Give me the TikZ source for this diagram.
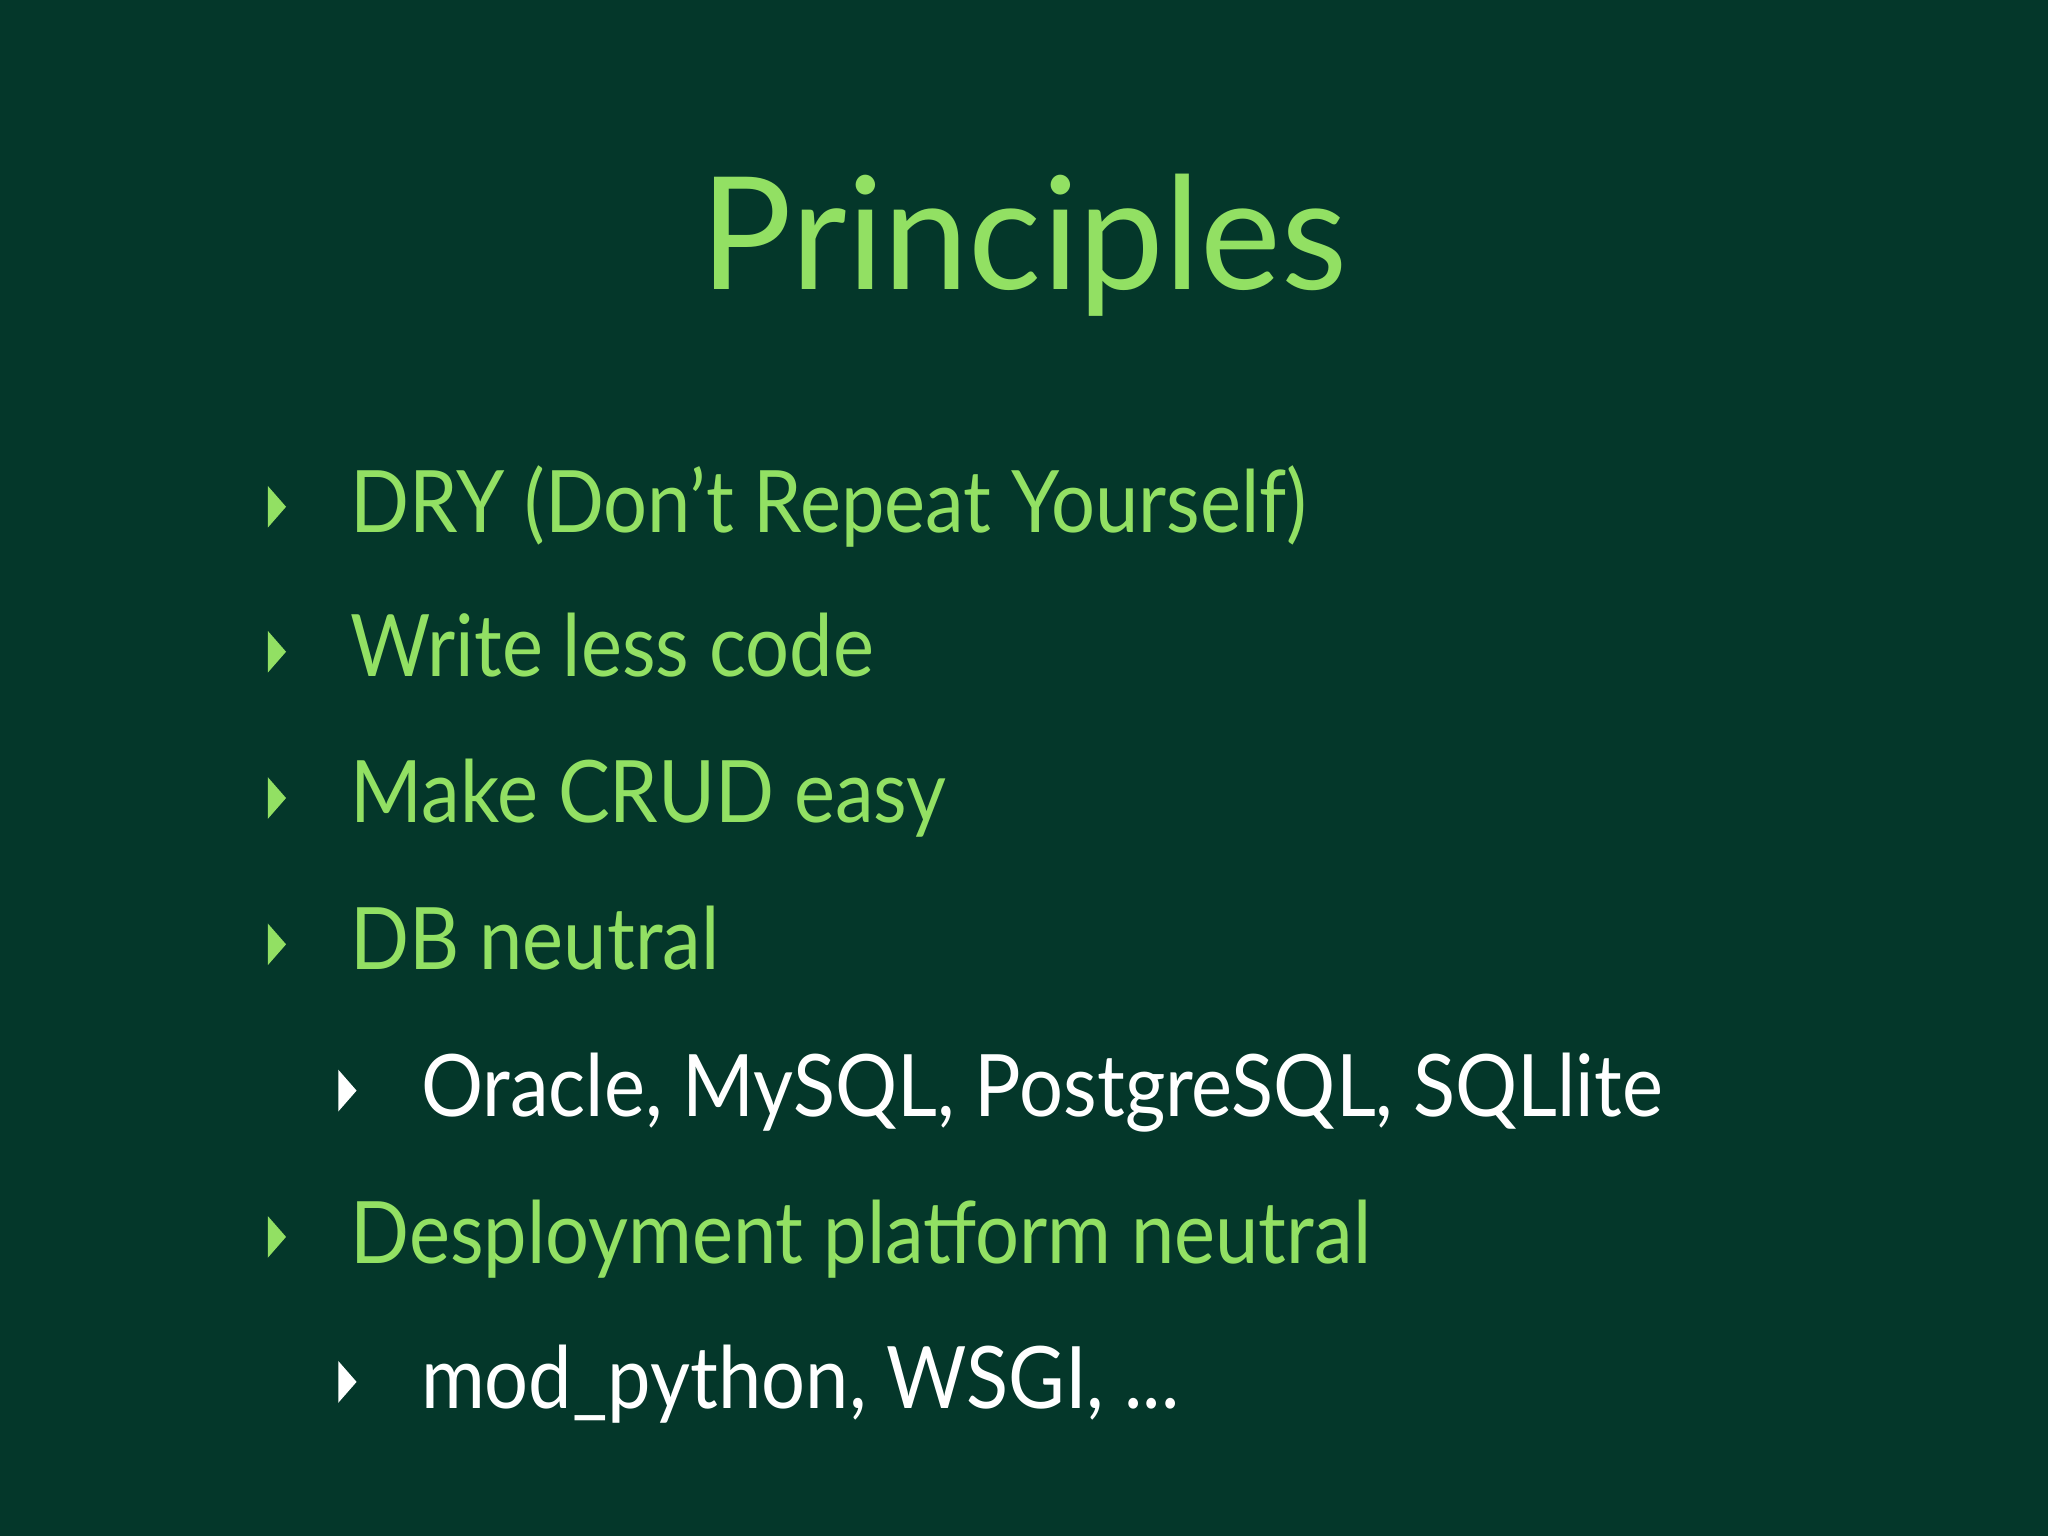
\documentclass[tikz,border=0pt]{standalone}
\usepackage{fontspec}
\setmainfont{Lato}[FakeStretch=0.9]
\newfontfamily\titlefont{Lato}[FakeStretch=0.975]
\definecolor{bg}{HTML}{04372A}
\definecolor{lg}{HTML}{92E063}
\tikzset{
 item/.style={anchor=base west,inner sep=0pt,text=lg,font=\fontsize{33}{36}\selectfont},
 subitem/.style={item,text=white},
}
\newcommand{\bul}[3]{\fill[#3] (#1,#2-16) -- (#1+14,#2) -- (#1,#2+16) -- cycle;}
\begin{document}
\begin{tikzpicture}[x=0.5pt,y=-0.5pt]
\fill[bg] (0,0) rectangle (1568,1176);
\useasboundingbox (0,0) rectangle (1568,1176);
\node[anchor=base,inner sep=0pt,text=lg,font=\titlefont\fontsize{60}{66}\selectfont] (title) at (784,222) {Principles};
\node[item] (i1) at (268,408) {DRY (Don’t Repeat Yourself)};
\node[item] (i2) at (268,518) {Write less code};
\node[item] (i3) at (268,630) {Make CRUD easy};
\node[item] (i4) at (268,742) {DB neutral};
\node[subitem] (s1) at (322,855) {Oracle, MySQL, PostgreSQL, SQLlite};
\node[item] (i5) at (268,967) {Desployment platform neutral};
\node[subitem] (s2) at (322,1078) {mod\_python, WSGI, ...};
\bul{205}{388}{lg}
\bul{205}{499}{lg}
\bul{205}{611}{lg}
\bul{205}{723}{lg}
\bul{259}{835}{white}
\bul{205}{947}{lg}
\bul{259}{1058}{white}
\end{tikzpicture}
\end{document}
